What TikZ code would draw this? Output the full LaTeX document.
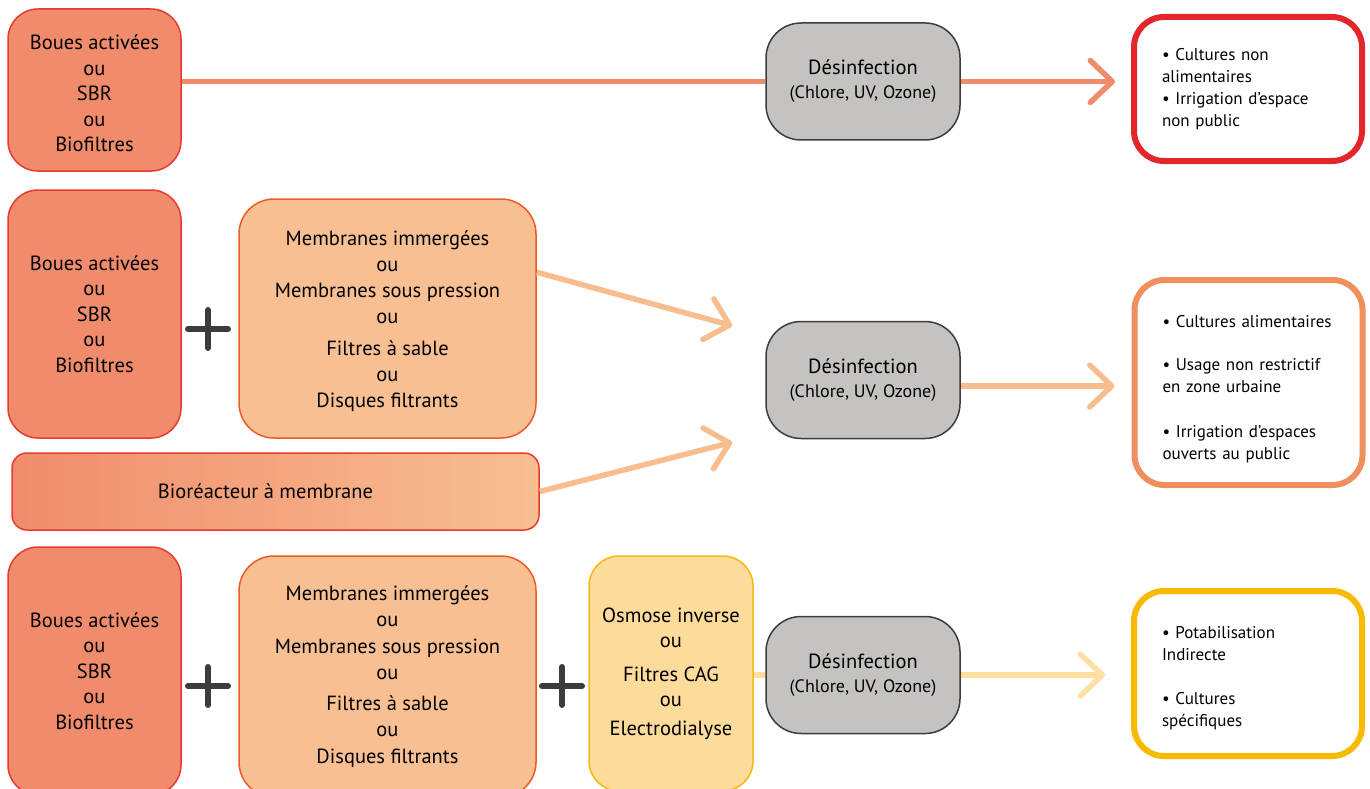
\documentclass[tikz,border=0pt]{standalone}
\usepackage{fontspec}
\setmainfont{PT Sans}
\usetikzlibrary{arrows.meta}
\definecolor{salmon}{RGB}{240,140,108}
\definecolor{redb}{RGB}{230,59,46}
\definecolor{lorange}{RGB}{247,191,146}
\definecolor{orangeb}{RGB}{236,91,36}
\definecolor{lyellow}{RGB}{253,219,154}
\definecolor{yellowb}{RGB}{245,185,20}
\definecolor{grayf}{RGB}{196,195,193}
\definecolor{grayb}{RGB}{60,60,60}
\definecolor{r1b}{RGB}{227,38,42}
\definecolor{r2b}{RGB}{239,143,93}
\definecolor{r3b}{RGB}{247,186,0}
\definecolor{l1c}{RGB}{239,140,108}
\definecolor{l2c}{RGB}{247,189,143}
\definecolor{l3c}{RGB}{253,223,160}
\definecolor{plusc}{RGB}{60,60,60}
\begin{document}
\begin{tikzpicture}[x=1pt,y=-1pt,
  box/.style={rounded corners=30pt, draw, line width=1.5pt, inner sep=0pt, align=center,
    font=\fontsize{20.5}{25.5}\selectfont},
  abox/.style={box, fill=salmon, draw=redb, minimum width=173pt},
  bbox/.style={box, fill=lorange, draw=orangeb, minimum width=297pt, rounded corners=35pt,
    font=\fontsize{20.5}{26.3}\selectfont},
  cbox/.style={box, fill=lyellow, draw=yellowb, minimum width=164pt},
  dbox/.style={box, fill=grayf, draw=grayb, minimum width=194pt, minimum height=117pt,
    rounded corners=35pt, font=\fontsize{20.5}{24}\selectfont},
  rbox/.style={rounded corners=30pt, draw, line width=6pt, fill=white, minimum width=228pt,
    inner xsep=28pt, inner ysep=0pt, text width=172pt, align=left,
    font=\fontsize{17}{22}\selectfont},
  conn/.style={line width=5.5pt},
  tip/.style={-{Straight Barb[length=22pt,width=42pt,round]}},
  plussign/.style={line width=6pt, line cap=round, draw=plusc}
]
\useasboundingbox (0,0) rectangle (1370,789);
\clip (0,0) rectangle (1370,789);

% Row 1
\node[abox, minimum height=162pt] (A1) at (94.5,90) {\rule{0pt}{22pt}Boues activées\\ou\\SBR\\ou\\Biofiltres};
\node[dbox] (D1) at (863,81.5) {Désinfection\\{\fontsize{18}{18}\selectfont (Chlore, UV, Ozone)}};
\node[rbox, draw=r1b, minimum height=144pt] (R1) at (1248,89)
  {• Cultures non\\alimentaires\\• Irrigation d’espace\\non public};

% Row 2
\node[abox, minimum height=248pt] (A2) at (94.5,314) {Boues activées\\ou\\SBR\\ou\\Biofiltres};
\node[bbox, minimum height=239pt] (B2) at (387.5,318.5)
  {\rule{0pt}{20pt}Membranes immergées\\ou\\Membranes sous pression\\ou\\[5pt]Filtres à sable\\ou\\Disques filtrants};
\node[box, draw=redb, left color=salmon, right color=lorange, rounded corners=15pt,
  minimum width=527pt, minimum height=77pt] (Bio) at (275.5,491.5) {Bioréacteur à membrane\hspace{20pt}};
\node[dbox] (D2) at (863,380) {Désinfection\\{\fontsize{18}{18}\selectfont (Chlore, UV, Ozone)}};
\node[rbox, draw=r2b, minimum height=205pt] (R2) at (1248.5,382.5)
  {\rule{0pt}{25pt}• Cultures alimentaires\\[21pt]• Usage non restrictif\\en zone urbaine\\[23pt]• Irrigation d’espaces\\ouverts au public};

% Row 3
\node[abox, minimum height=248pt] (A3) at (94.5,671) {Boues activées\\ou\\SBR\\ou\\Biofiltres};
\node[bbox, minimum height=241pt] (B3) at (387.5,676.5)
  {Membranes immergées\\ou\\Membranes sous pression\\ou\\[5pt]Filtres à sable\\ou\\Disques filtrants};
\node[cbox, minimum height=235pt] (C3) at (671,673.5)
  {Osmose inverse\\ou\\[8pt]Filtres CAG\\ou\\[3pt]Electrodialyse};
\node[dbox] (D3) at (863,675) {Désinfection\\{\fontsize{18}{18}\selectfont (Chlore, UV, Ozone)}};
\node[rbox, draw=r3b, minimum height=165pt] (R3) at (1248,673.5)
  {\rule{0pt}{21pt}• Potabilisation\\Indirecte\\[22pt]• Cultures\\spécifiques};

% Connectors
\draw[conn, draw=l1c] (D1.west -| A1.east) -- (D1.west);
\draw[conn, draw=l1c, tip] (D1.east) -- ([xshift=-16pt]R1.west |- D1.east);

\draw[conn, draw=l2c, tip] ([yshift=-74pt]B2.north east) -- ([xshift=-33pt,yshift=-5pt]D2.north west);
\draw[conn, draw=l2c, tip] (Bio.east) -- ([xshift=-33pt,yshift=-3pt]D2.south west);
\coordinate (t2) at ([xshift=-17pt]R2.west |- D2.east);
\draw[conn, draw=l2c, tip] ([yshift=-6pt]D2.east) -- ([yshift=-6pt]t2);

\draw[conn, draw=l3c] (D3.west -| C3.east) -- (D3.west);
\draw[conn, draw=l3c, tip] (D3.east) -- ([xshift=-26pt]R3.west |- D3.east);

% Plus signs
\coordinate (p1) at (208,329);
\coordinate (p2) at (208,686);
\coordinate (p3) at (562,686);
\foreach \p in {p1,p2,p3}
  \draw[plussign] ([xshift=-20pt]\p) -- ([xshift=20pt]\p) ([yshift=-19pt]\p) -- ([yshift=19pt]\p);
\end{tikzpicture}
\end{document}
